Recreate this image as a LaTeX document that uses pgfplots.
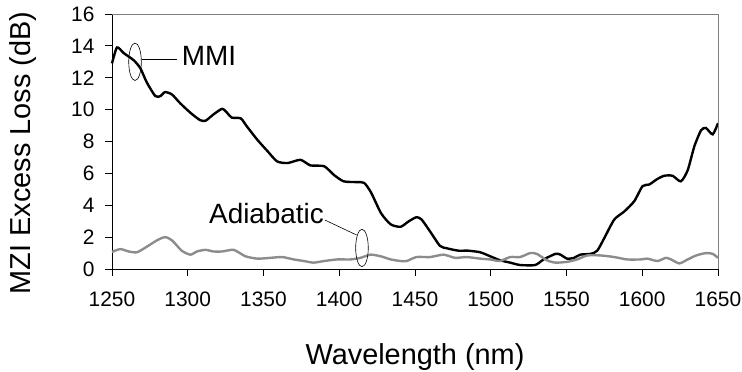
\documentclass[border=0pt]{standalone}
\usepackage{pgfplots}
\pgfplotsset{compat=1.18}
\usepackage{fontspec}
\setmainfont{Liberation Sans}
\definecolor{adgray}{RGB}{140,140,140}
\definecolor{boxgray}{RGB}{128,128,128}
\begin{document}
\begin{tikzpicture}
\begin{axis}[
  width=606bp, height=255bp, scale only axis,
  xmin=1250, xmax=1650, ymin=0, ymax=16,
  xtick={1250,1300,...,1650}, ytick={0,2,...,16},
  axis lines=left, axis line style={-, black, line width=0.8pt},
  tick align=outside, major tick length=7bp,
  tick style={black, line width=0.8pt},
  /pgf/number format/assume math mode=true,
  /pgf/number format/1000 sep={},
  ticklabel style={font=\fontsize{21}{25}\selectfont},
  xticklabel style={yshift=-12bp},
  yticklabel style={xshift=-7bp},
  clip=false,
]
\addplot[black, line width=2.4pt, smooth, tension=0.4] coordinates {
(1250,12.9)(1253.3,13.9)(1257.7,13.55)(1264.3,13.1)(1268.7,12.6)(1273,11.7)
(1278.6,10.85)(1282,10.85)(1285,11.1)(1289.6,10.95)(1295,10.4)(1301.8,9.8)
(1308,9.35)(1311.7,9.3)(1317,9.7)(1322.7,10.05)(1326,9.8)(1329,9.5)(1335,9.45)
(1339,8.95)(1346,8.1)(1352.6,7.4)(1359,6.75)(1366,6.65)(1374.4,6.85)(1381,6.5)
(1390,6.45)(1396.5,5.9)(1403,5.5)(1412,5.45)(1416.5,5.4)(1421,4.8)(1427.6,3.5)
(1434,2.8)(1440.5,2.65)(1446,3.0)(1451,3.25)(1454.4,3.1)(1460,2.35)(1466.5,1.45)
(1471,1.3)(1478.6,1.15)(1485,1.15)(1493,1.05)(1499.6,0.8)(1506,0.55)(1512.8,0.4)
(1519.4,0.25)(1529.3,0.25)(1534.9,0.6)(1542.7,0.95)(1546,0.9)(1550.4,0.65)
(1555,0.7)(1559,0.9)(1566,0.95)(1570.3,1.15)(1575,1.95)(1581.5,3.1)(1588,3.6)
(1594.7,4.25)(1600.2,5.2)(1604.6,5.3)(1610,5.65)(1614.5,5.85)(1620,5.85)
(1625.5,5.5)(1630,6.2)(1634.4,7.7)(1638.8,8.7)(1642,8.85)(1646.5,8.45)(1650,9.15)
};
\addplot[adgray, line width=2.4pt, smooth, tension=0.4] coordinates {
(1250,1.07)(1255.5,1.25)(1261,1.1)(1266.5,1.05)(1273,1.4)(1279.7,1.8)(1285,2.0)
(1289.6,1.8)(1296,1.15)(1301.8,0.9)(1306,1.1)(1311.7,1.2)(1317,1.1)(1322.7,1.1)
(1330.4,1.2)(1338,0.8)(1346,0.65)(1354.6,0.7)(1362.3,0.75)(1370,0.6)(1376.7,0.5)
(1383,0.4)(1390,0.5)(1398.7,0.6)(1407.5,0.6)(1414,0.7)(1420.6,0.9)(1427.3,0.8)
(1434,0.6)(1440.5,0.5)(1444.5,0.5)(1451,0.75)(1460,0.75)(1468.8,0.9)(1476.5,0.7)
(1484,0.75)(1493,0.65)(1499.6,0.6)(1506,0.5)(1512.8,0.75)(1519.4,0.75)(1526,1.0)
(1530.4,0.95)(1537,0.55)(1542.7,0.4)(1550.4,0.45)(1557,0.6)(1563.7,0.85)
(1572.5,0.85)(1581.5,0.75)(1590,0.6)(1599,0.6)(1603.5,0.65)(1610,0.5)(1615.6,0.7)
(1619,0.6)(1624.5,0.35)(1630,0.6)(1635.6,0.85)(1642,1.0)(1646.5,0.95)(1650,0.7)
};
% gray top and right border
\draw[boxgray, line width=0.8pt] (rel axis cs:0,1) -- (rel axis cs:1,1) -- (rel axis cs:1,0);
% annotations
\draw[black, line width=0.6pt] (axis cs:1265.2,13.0) ellipse [x radius=6.3bp, y radius=18.7bp];
\draw[black, line width=0.6pt] (axis cs:1269.6,13.16) -- (axis cs:1292.9,13.16);
\node[font=\fontsize{28}{32}\selectfont] at (axis cs:1314,13.36) {MMI};
\draw[black, line width=0.6pt] (axis cs:1415,1.32) ellipse [x radius=6.3bp, y radius=18.7bp];
\draw[black, line width=0.6pt] (axis cs:1390.6,3.07) -- (axis cs:1411.5,2.13);
\node[font=\fontsize{28}{32}\selectfont] at (axis cs:1352,3.5) {Adiabatic};
% axis labels
\node[font=\fontsize{29}{33}\selectfont] at ([yshift=-88bp]rel axis cs:0.5,0) {Wavelength (nm)};
\node[font=\fontsize{29}{33}\selectfont, rotate=90] at ([xshift=-89bp]rel axis cs:0,0.455) {MZI Excess Loss (dB)};
\coordinate (O) at (rel axis cs:0,0);
\coordinate (T) at (rel axis cs:1,1);
\end{axis}
\pgfresetboundingbox
\path ([xshift=-112bp,yshift=-103bp]O) rectangle ([xshift=24bp,yshift=14bp]T);
\end{tikzpicture}
\end{document}
